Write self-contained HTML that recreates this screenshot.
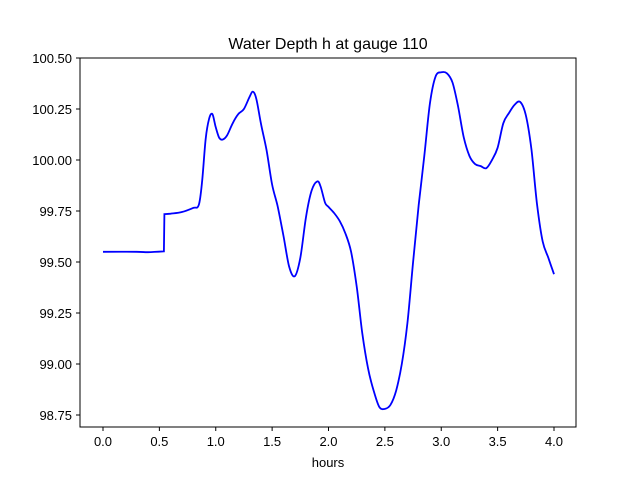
<!DOCTYPE html>
<html><head><meta charset="utf-8"><style>body{margin:0;background:#fff}svg{display:block;font-family:"Liberation Sans",sans-serif}</style></head>
<body>
<svg id="c" width="640" height="480">
<rect x="0" y="0" width="640" height="480" fill="#fff"/>
<text x="328" y="49" font-size="16" text-anchor="middle">Water Depth h at gauge 110</text>
<g id="ticks"></g>
<path id="line" fill="none" stroke="#0000ff" stroke-width="1.8"/>
<rect x="80" y="58" width="496" height="369" fill="none" stroke="#000" stroke-width="1"/>
<text x="328" y="467" font-size="13" text-anchor="middle">hours</text>
</svg>
<script>
const times=[0,0.3,0.4,0.54,0.545,0.6,0.7,0.8,0.85,0.88,0.91,0.94,0.97,1.0,1.03,1.06,1.1,1.15,1.2,1.25,1.3,1.33,1.36,1.4,1.45,1.5,1.55,1.6,1.65,1.7,1.75,1.8,1.85,1.9,1.93,1.97,2.0,2.05,2.1,2.15,2.2,2.25,2.3,2.35,2.4,2.45,2.5,2.55,2.6,2.65,2.7,2.75,2.8,2.85,2.9,2.95,3.0,3.05,3.1,3.15,3.2,3.25,3.3,3.35,3.4,3.45,3.5,3.55,3.6,3.65,3.7,3.75,3.8,3.85,3.9,3.95,4.0];
const depths=[99.55,99.55,99.548,99.552,99.735,99.737,99.745,99.765,99.78,99.9,100.1,100.2,100.225,100.16,100.11,100.1,100.12,100.18,100.225,100.25,100.31,100.335,100.3,100.18,100.05,99.88,99.77,99.63,99.48,99.43,99.52,99.72,99.85,99.895,99.87,99.79,99.77,99.74,99.7,99.64,99.55,99.38,99.15,98.98,98.87,98.79,98.78,98.8,98.87,99.0,99.2,99.5,99.78,100.02,100.28,100.41,100.43,100.425,100.38,100.26,100.11,100.02,99.98,99.97,99.96,100.0,100.06,100.18,100.23,100.27,100.285,100.22,100.05,99.78,99.6,99.52,99.44];
const xTicks=[0,0.5,1,1.5,2,2.5,3,3.5,4];
const xLabels=["0.0","0.5","1.0","1.5","2.0","2.5","3.0","3.5","4.0"];
const yTicks=[98.75,99,99.25,99.5,99.75,100,100.25,100.5];
const yLabels=["98.75","99.00","99.25","99.50","99.75","100.00","100.25","100.50"];
const X=t=>103+t*112.75;
const Y=v=>160-(v-100)*204;
const ns="http://www.w3.org/2000/svg";
const g=document.getElementById('ticks');
function mk(tag,a){const e=document.createElementNS(ns,tag);for(const k in a)e.setAttribute(k,a[k]);g.appendChild(e);return e;}
xTicks.forEach((t,i)=>{
 const l=mk('line',{x1:X(t),x2:X(t),y1:427,y2:431,stroke:'#000'});
 
 
 const s=mk('text',{x:X(t),y:446,'font-size':13,'text-anchor':'middle'});s.textContent=xLabels[i];
 
 
});
yTicks.forEach((v,i)=>{
 const l=mk('line',{x1:76,x2:80,y1:Y(v),y2:Y(v),stroke:'#000'});
 
 
 const s=mk('text',{x:72,y:Y(v)+5,'font-size':13,'text-anchor':'end'});s.textContent=yLabels[i];
 
 
});
const pts=times.map((t,i)=>[X(t),Y(depths[i])]);
let d='M'+pts[0][0].toFixed(1)+' '+pts[0][1].toFixed(1);
for(let i=0;i<pts.length-1;i++){
 const p0=pts[Math.max(0,i-1)],p1=pts[i],p2=pts[i+1],p3=pts[Math.min(pts.length-1,i+2)];
 const k=1/6;
 let c1=[p1[0]+(p2[0]-p0[0])*k,p1[1]+(p2[1]-p0[1])*k];
 let c2=[p2[0]-(p3[0]-p1[0])*k,p2[1]-(p3[1]-p1[1])*k];
 if(Math.abs(p2[1]-p1[1])>20&&Math.abs(p2[0]-p1[0])<3){c1=p1;c2=p2;}
 if(i>0&&Math.abs(p1[1]-p0[1])>20&&Math.abs(p1[0]-p0[0])<3){c1=p1;}
 if(i<pts.length-2&&Math.abs(p3[1]-p2[1])>20&&Math.abs(p3[0]-p2[0])<3){c2=p2;}
 d+=' C'+c1[0].toFixed(1)+' '+c1[1].toFixed(1)+' '+c2[0].toFixed(1)+' '+c2[1].toFixed(1)+' '+p2[0].toFixed(1)+' '+p2[1].toFixed(1);
}
document.getElementById('line').setAttribute('d',d);
</script>
</body></html>
